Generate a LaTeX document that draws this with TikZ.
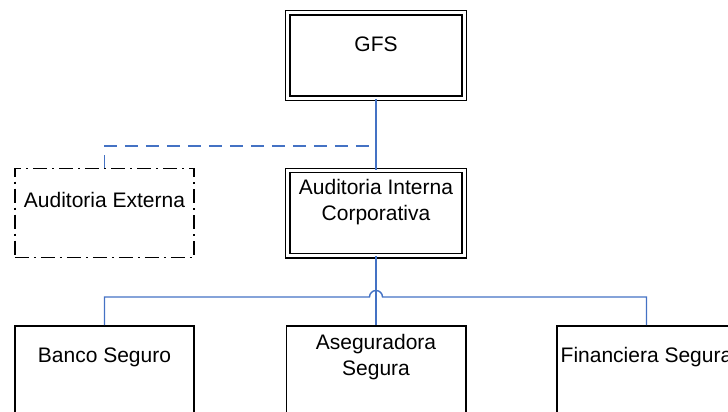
\documentclass[tikz,border=0pt]{standalone}
\usepackage{fontspec}
\setmainfont{Liberation Sans}
\definecolor{linkblue}{RGB}{68,114,196}
\begin{document}
\begin{tikzpicture}[x=1pt, y=-1pt, font=\fontsize{21}{26}\selectfont,
  orgbox/.style={draw, line width=1.6pt, minimum width=179.4pt, minimum height=89pt, inner sep=0pt},
  dblbox/.style={draw, line width=1.3pt, double, double distance=3pt, minimum width=176.4pt, minimum height=85.4pt, inner sep=0pt},
  boxtext/.style={anchor=center, yshift=-32pt, align=center, inner sep=0pt},
  link/.style={linkblue, line width=1.4pt},
  extlink/.style={link, dash pattern=on 13pt off 8pt}]
  \useasboundingbox (0,0) rectangle (728,412);
  % top levels
  \node[dblbox, label={[boxtext]north:GFS}] (gfs) at (376,55.5) {};
  \node[dblbox, label={[boxtext]north:{Auditoria Interna\\Corporativa}}] (aic) at (376,213) {};
  \node[orgbox, dash pattern=on 14pt off 5pt on 2pt off 5pt,
        label={[boxtext]north:Auditoria Externa}] (ext) at (104.5,213) {};
  % companies
  \node[orgbox, label={[boxtext]north:Banco Seguro}] (banco) at (104.5,370.5) {};
  \node[orgbox, label={[boxtext]north:{Aseguradora\\Segura}}] (aseg) at (376,370.5) {};
  \node[orgbox, label={[boxtext]north:Financiera Segura}] (fin) at (646.5,370.5) {};
  \coordinate (extjoin) at (376,146);
  \coordinate (bus) at (376,297);
  \draw[link] (gfs.south) -- (aic.north);
  \draw[extlink] (ext.north) |- (extjoin);
  \draw[link] (aic.south) -- (aseg.north);
  \draw[link] (banco.north) |- ([xshift=-6.5pt]bus)
    arc[start angle=180, end angle=360, radius=6.5] -| (fin.north);
\end{tikzpicture}
\end{document}
